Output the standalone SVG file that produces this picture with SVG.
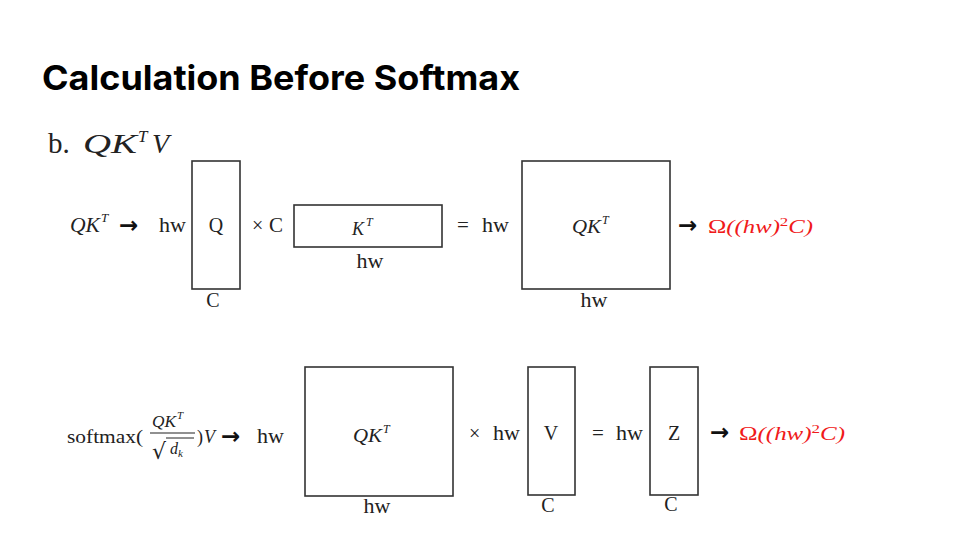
<svg xmlns="http://www.w3.org/2000/svg" width="960" height="540" viewBox="0 0 960 540">
<style>
.t{font-family:"Liberation Serif","Times New Roman",serif;fill:#222;}
.i{font-family:"Liberation Serif","Times New Roman",serif;font-style:italic;fill:#222;}
.ar{font-family:"DejaVu Sans",sans-serif;font-weight:700;fill:#111;font-size:23px;}
.red{fill:#f01a1a;}
.box{fill:#fff;stroke:#333;stroke-width:1.6;}
.cm{font-family:"Liberation Serif","Times New Roman",serif;fill:#222;}
</style>
<rect width="960" height="540" fill="#fff"/>
<text x="42" y="90" font-family="Inter,'Liberation Sans',sans-serif" font-weight="700" font-size="34" fill="#000" textLength="478" lengthAdjust="spacingAndGlyphs">Calculation Before Softmax</text>
<g id="subtitle">
<text class="t" x="48" y="153" font-size="29" fill="#333">b.</text>
<text class="i" x="83" y="153" font-size="28" textLength="54" lengthAdjust="spacingAndGlyphs">QK</text>
<text class="i" x="138" y="142" font-size="17">T</text>
<text class="i" x="152" y="153" font-size="28">V</text>
</g>
<g id="row1">
<g id="r1-label">
<text class="i" x="70" y="232" font-size="20" textLength="30" lengthAdjust="spacingAndGlyphs">QK</text>
<text class="i" x="101" y="222" font-size="13">T</text>
<text class="ar" x="119" y="233">→</text>
<text class="t" x="159" y="232" font-size="22">hw</text>
</g>
<g id="Q">
<rect class="box" x="192" y="161" width="48" height="128"/>
<text class="t" x="216" y="232" font-size="20" text-anchor="middle">Q</text>
<text class="t" x="213" y="307" font-size="20" text-anchor="middle">C</text>
</g>
<text class="t" x="252" y="232" font-size="20">×</text>
<text class="t" x="269" y="232" font-size="21">C</text>
<g id="KT">
<rect class="box" x="294" y="205" width="148" height="42"/>
<text class="i" x="352" y="235" font-size="18">K</text>
<text class="i" x="366" y="226" font-size="12">T</text>
<text class="t" x="370" y="268" font-size="22" text-anchor="middle">hw</text>
</g>
<text class="t" x="457" y="232" font-size="21">=</text>
<text class="t" x="482" y="232" font-size="22">hw</text>
<g id="QKT1">
<rect class="box" x="522" y="161" width="148" height="128"/>
<text class="i" x="572" y="233" font-size="19" textLength="29" lengthAdjust="spacingAndGlyphs">QK</text>
<text class="i" x="602" y="224" font-size="12">T</text>
<text class="t" x="594" y="307" font-size="22" text-anchor="middle">hw</text>
</g>
<g id="cost1">
<text class="ar" x="678" y="233">→</text>
<text class="i red" x="708" y="233" font-size="19" textLength="105" lengthAdjust="spacingAndGlyphs"><tspan font-style="normal">Ω</tspan>((hw)<tspan font-style="normal" font-size="13" dy="-7">2</tspan><tspan dy="7">C)</tspan></text>
</g>
</g>
<g id="row2">
<g id="r2-label">
<text class="cm" x="67" y="443" font-size="18" textLength="76" lengthAdjust="spacingAndGlyphs">softmax(</text>
<text class="i" x="152" y="427" font-size="17" textLength="24" lengthAdjust="spacingAndGlyphs">QK</text>
<text class="i" x="177" y="419" font-size="11">T</text>
<line x1="150" y1="433" x2="195" y2="433" stroke="#222" stroke-width="1.1"/>
<text x="152" y="459" font-family="DejaVu Sans,sans-serif" font-size="22" fill="#222">√</text>
<line x1="166" y1="438" x2="194" y2="438" stroke="#222" stroke-width="1"/>
<text class="i" x="170" y="454" font-size="16">d</text>
<text class="i" x="178" y="457" font-size="11">k</text>
<text class="cm" x="197" y="443" font-size="18">)</text>
<text class="i" x="204" y="443" font-size="18">V</text>
<text class="ar" x="221" y="444">→</text>
<text class="t" x="257" y="443" font-size="22">hw</text>
</g>
<g id="QKT2">
<rect class="box" x="305" y="367" width="148" height="129"/>
<text class="i" x="353" y="442" font-size="19" textLength="29" lengthAdjust="spacingAndGlyphs">QK</text>
<text class="i" x="383" y="433" font-size="12">T</text>
<text class="t" x="377" y="513" font-size="22" text-anchor="middle">hw</text>
</g>
<text class="t" x="469" y="440" font-size="20">×</text>
<text class="t" x="493" y="440" font-size="22">hw</text>
<g id="V">
<rect class="box" x="528" y="367" width="47" height="128"/>
<text class="t" x="551" y="440" font-size="20" text-anchor="middle">V</text>
<text class="t" x="548" y="512" font-size="20" text-anchor="middle">C</text>
</g>
<text class="t" x="592" y="440" font-size="21">=</text>
<text class="t" x="616" y="440" font-size="22">hw</text>
<g id="Z">
<rect class="box" x="650" y="367" width="48" height="128"/>
<text class="t" x="674" y="440" font-size="20" text-anchor="middle">Z</text>
<text class="t" x="671" y="511" font-size="20" text-anchor="middle">C</text>
</g>
<g id="cost2">
<text class="ar" x="710" y="440">→</text>
<text class="i red" x="739" y="440" font-size="19" textLength="106" lengthAdjust="spacingAndGlyphs"><tspan font-style="normal">Ω</tspan>((hw)<tspan font-style="normal" font-size="13" dy="-7">2</tspan><tspan dy="7">C)</tspan></text>
</g>
</g>
<g id="connectors"></g>
</svg>
